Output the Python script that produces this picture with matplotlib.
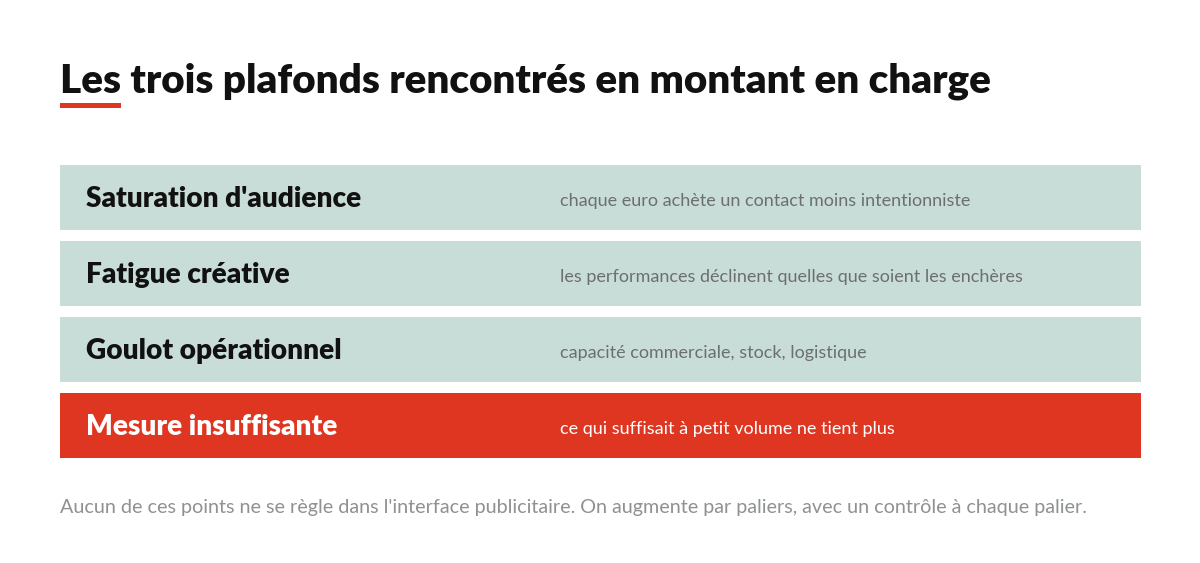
import matplotlib
matplotlib.use("Agg")
import matplotlib.pyplot as plt

TITLE = "Les trois plafonds rencontrés en montant en charge"
labels = ["Saturation d'audience", "Fatigue créative", "Goulot opérationnel", "Mesure insuffisante"]
descriptions = [
  "chaque euro achète un contact moins intentionniste",
  "les performances déclinent quelles que soient les enchères",
  "capacité commerciale, stock, logistique",
  "ce qui suffisait à petit volume ne tient plus",
]
highlight = [False, False, False, True]
FOOTER = ("Aucun de ces points ne se règle dans l'interface publicitaire. "
          "On augmente par paliers, avec un contrôle à chaque palier.")

W, H = 1200, 563
RED = "#df3622"
PALE = "#c9ddd8"

plt.rcParams['font.family'] = ['Lato', 'DejaVu Sans']

fig = plt.figure(figsize=(W / 100, H / 100), dpi=100)
fig.patch.set_facecolor("white")

# title + red underline
fig.text(60 / W, 1 - 92 / H, TITLE, fontsize=29.1, fontweight="heavy",
         color="#111111", ha="left", va="baseline")
fig.add_artist(plt.Rectangle((60 / W, 1 - 108 / H), 61 / W, 5 / H,
                             transform=fig.transFigure, color=RED, lw=0))

# rows area
top, bottom, left, right = 165, 458, 60, 1141
n = len(labels)
pitch = (bottom - top + 11) / n
h = 65 / pitch
ax = fig.add_axes([left / W, 1 - bottom / H, (right - left) / W, (bottom - top) / H])
ax.set_xlim(0, right - left)
ax.set_ylim(n - 1 + h / 2, -h / 2)
ax.axis("off")

ys = list(range(n))
colors = [RED if hl else PALE for hl in highlight]
ax.barh(ys, [right - left] * n, height=h, left=0, color=colors, lw=0)

for y, lab, desc, hl in zip(ys, labels, descriptions, highlight):
  ax.text(26, y + 0.02, lab, fontsize=20.2, fontweight="heavy",
          color="white" if hl else "#111111", va="center", ha="left")
  ax.text(500, y + 0.04, desc, fontsize=13, fontweight="normal",
          color="white" if hl else "#6b706e", va="center", ha="left")

fig.text(60 / W, 1 - 513 / H, FOOTER, fontsize=14.2, fontweight="normal",
         color="#8e9290", ha="left", va="baseline")

fig.savefig("out.png", dpi=100, facecolor="white")
